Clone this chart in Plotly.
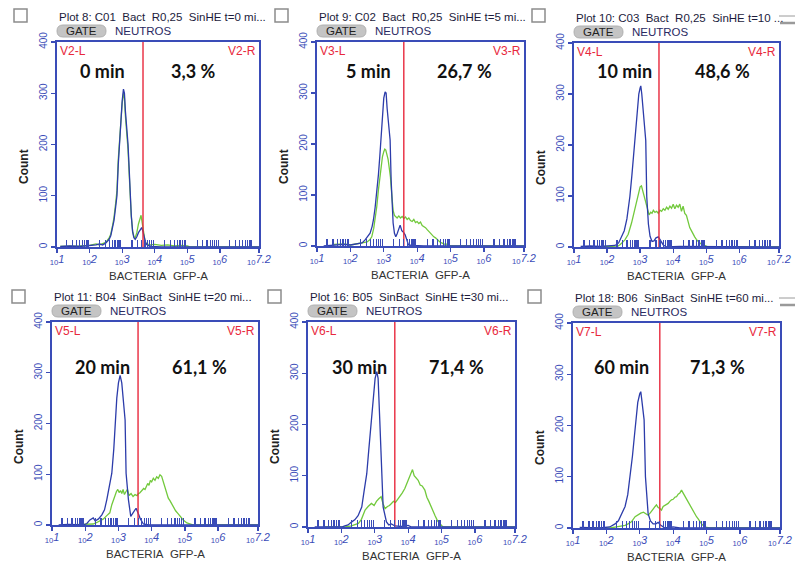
import plotly.graph_objects as go

W, H = 795, 563

# ---------------- data ----------------
HEADERS = ["Plot 8: C01\u00a0 Bact\u00a0 R0,25\u00a0 SinHE t=0 mi...",
           "Plot 9: C02\u00a0 Bact\u00a0 R0,25\u00a0 SinHE t=5 mi...",
           "Plot 10: C03\u00a0 Bact\u00a0 R0,25\u00a0 SinHE t=10 ...",
           "Plot 11: B04\u00a0 SinBact\u00a0 SinHE t=20 mi...",
           "Plot 16: B05\u00a0 SinBact\u00a0 SinHE t=30 mi...",
           "Plot 18: B06\u00a0 SinBact\u00a0 SinHE t=60 mi..."]
GATE_NAMES = ["V2", "V3", "V4", "V5", "V6", "V7"]
TIMES = ["0 min", "5 min", "10 min", "20 min", "30 min", "60 min"]
PCTS = ["3,3 %", "26,7 %", "48,6 %", "61,1 %", "71,4 %", "71,3 %"]
GATE_LOG = [3.64, 3.60, 3.57, 3.59, 3.60, 3.60]
Y_TICKS = [0, 100, 200, 300, 400]
X_TICK_EXP = ["1", "2", "3", "4", "5", "6", "7.2"]
X_TICK_LOG = [1, 2, 3, 4, 5, 6, 7.2]

p1_blue_log = [1.1,1.4,1.7,2.0,2.2,2.3,2.4,2.5,2.6,2.65,2.7,2.75,2.8,2.84,2.88,2.92,2.96,3.0,3.04,3.07,3.1,3.14,3.18,3.21,3.24,3.28,3.32,3.36,3.4,3.45,3.5,3.55,3.6,3.64,3.68,3.72,3.78,3.9,4.2,5.0,7.2]
p1_blue_cnt = [1,2,1,2,4,6,4,8,15,22,35,52,78,100,160,205,245,285,308,300,265,235,200,160,105,62,30,18,15,20,28,34,38,30,18,8,3,1,0,0,0]
p1_green_log = [1.1,1.4,1.7,2.0,2.2,2.3,2.4,2.5,2.6,2.65,2.7,2.75,2.8,2.84,2.88,2.92,2.96,3.0,3.04,3.07,3.1,3.14,3.18,3.21,3.24,3.28,3.32,3.36,3.4,3.45,3.5,3.55,3.58,3.62,3.66,3.7,3.75,3.85,4.0,4.2,4.4,4.6,4.8,5.0,5.1,7.2]
p1_green_cnt = [1,1,2,3,6,4,7,9,18,25,40,58,85,110,170,215,250,280,300,290,255,225,190,150,100,60,32,20,18,28,45,58,62,45,25,12,6,4,5,3,4,2,3,2,0,0]

p2_blue_log = [1.2,1.5,1.8,2.0,2.2,2.35,2.44,2.52,2.59,2.65,2.69,2.74,2.79,2.84,2.88,2.92,2.96,3.0,3.04,3.07,3.1,3.14,3.19,3.22,3.25,3.28,3.32,3.36,3.4,3.45,3.49,3.54,3.59,3.64,3.69,3.74,3.85,4.2,7.2]
p2_blue_cnt = [0,2,3,2,4,6,12,18,25,38,51,75,104,140,175,208,250,290,302,300,270,240,208,130,75,45,25,18,24,36,41,30,27,22,10,2,1,0,0]
p2_green_log = [1.5,1.8,2.0,2.2,2.4,2.5,2.58,2.64,2.7,2.75,2.79,2.84,2.89,2.92,2.96,3.0,3.03,3.06,3.09,3.13,3.17,3.2,3.24,3.28,3.32,3.36,3.4,3.45,3.5,3.55,3.6,3.65,3.7,3.75,3.8,3.85,3.9,3.95,4.0,4.05,4.1,4.15,4.2,4.25,4.3,4.35,4.4,4.45,4.5,4.55,4.6,4.65,4.7,4.75,4.8,4.85,4.9,4.95,5.0,7.2]
p2_green_cnt = [3,4,2,4,6,8,12,18,35,55,77,110,142,160,175,185,190,188,180,170,150,135,100,70,60,58,55,59,55,58,54,57,52,55,50,48,52,46,48,44,47,40,38,36,32,28,26,22,18,16,12,10,7,5,4,3,4,2,0,0]

p3_blue_log = [1.2,1.5,1.8,2.0,2.24,2.35,2.44,2.52,2.6,2.69,2.75,2.8,2.84,2.88,2.92,2.96,3.0,3.02,3.05,3.08,3.12,3.17,3.2,3.25,3.3,3.36,3.42,3.48,3.55,3.62,3.7,3.8,4.2,7.2]
p3_blue_cnt = [1,2,1,2,3,8,21,32,55,99,140,180,209,245,275,300,312,316,300,280,250,209,99,45,21,11,12,18,20,12,4,0,1,0]
p3_green_log = [1.5,2.0,2.29,2.4,2.54,2.64,2.74,2.82,2.9,2.96,3.0,3.04,3.08,3.12,3.17,3.22,3.27,3.32,3.36,3.4,3.45,3.5,3.55,3.6,3.65,3.7,3.75,3.8,3.85,3.9,3.95,4.0,4.05,4.1,4.15,4.2,4.25,4.3,4.35,4.4,4.45,4.5,4.55,4.6,4.65,4.7,4.75,4.8,4.85,4.9,4.95,5.0,5.06,7.2]
p3_green_cnt = [0,1,0,5,14,25,47,70,95,112,118,120,110,100,85,72,63,68,66,72,68,70,66,72,70,75,72,78,74,80,76,84,75,82,78,84,70,80,66,62,48,38,32,25,20,15,11,8,6,4,3,2,0,0]

p4_blue_log = [1.2,1.5,1.94,2.05,2.14,2.24,2.3,2.4,2.5,2.58,2.65,2.72,2.8,2.86,2.9,2.95,3.0,3.05,3.1,3.15,3.2,3.23,3.3,3.37,3.45,3.53,3.6,3.66,3.75,3.9,7.2]
p4_blue_cnt = [0,1,0,3,10,14,8,12,20,30,50,75,102,150,207,250,280,295,280,245,207,102,50,17,25,33,22,12,2,0,0]
p4_green_log = [1.5,2.0,2.24,2.35,2.44,2.55,2.64,2.74,2.8,2.87,2.94,2.98,3.02,3.06,3.1,3.14,3.18,3.22,3.27,3.32,3.38,3.44,3.5,3.56,3.6,3.64,3.7,3.76,3.8,3.84,3.88,3.92,3.96,4.0,4.05,4.1,4.15,4.2,4.25,4.3,4.35,4.4,4.45,4.5,4.55,4.6,4.66,4.72,4.8,4.86,4.95,5.06,5.15,5.26,7.2]
p4_green_cnt = [0,1,2,5,8,12,18,24,40,55,66,70,64,68,62,70,60,65,70,58,62,56,60,58,62,63,68,72,70,76,82,78,88,85,92,88,95,92,99,96,85,75,68,53,48,42,36,28,22,17,10,4,2,0,0]

p5_blue_log = [1.2,2.01,2.1,2.2,2.31,2.4,2.5,2.61,2.68,2.76,2.82,2.9,2.96,3.01,3.06,3.1,3.15,3.2,3.25,3.35,3.42,3.5,3.6,3.8,4.0,4.1,7.2]
p5_blue_cnt = [0,0,2,4,10,14,22,39,70,104,150,208,250,290,303,290,208,104,39,10,4,6,2,1,3,0,0]
p5_green_log = [1.5,2.11,2.3,2.51,2.6,2.71,2.8,2.9,2.98,3.05,3.12,3.19,3.25,3.31,3.38,3.44,3.5,3.56,3.62,3.7,3.76,3.82,3.9,3.96,4.02,4.08,4.13,4.18,4.24,4.3,4.36,4.42,4.5,4.56,4.62,4.68,4.74,4.8,4.88,4.95,5.0,5.05,7.2]
p5_green_cnt = [0,0,2,7,15,33,40,46,42,50,55,59,45,36,40,42,46,50,48,55,62,66,75,85,92,104,112,100,96,91,82,80,72,58,50,40,32,23,12,6,3,0,0]

p6_blue_log = [1.2,1.8,2.1,2.26,2.36,2.46,2.56,2.64,2.71,2.78,2.84,2.88,2.94,3.0,3.03,3.06,3.1,3.13,3.17,3.21,3.25,3.32,3.4,3.48,3.55,3.62,3.75,4.0,4.2,7.2]
p6_blue_cnt = [1,0,2,8,14,28,42,65,100,140,180,211,245,262,266,250,230,211,100,50,28,14,8,8,11,6,0,2,0,0]
p6_green_log = [1.5,2.11,2.3,2.45,2.56,2.65,2.75,2.86,2.95,3.03,3.11,3.18,3.25,3.32,3.4,3.46,3.5,3.55,3.6,3.65,3.7,3.75,3.8,3.85,3.9,3.95,4.0,4.05,4.1,4.15,4.2,4.25,4.3,4.35,4.4,4.45,4.5,4.55,4.6,4.65,4.7,4.75,4.8,4.85,4.9,4.95,5.0,5.1,7.2]
p6_green_cnt = [0,0,2,3,5,8,12,22,26,29,31,28,25,30,38,42,45,40,38,35,42,44,46,48,52,55,56,60,61,66,68,74,68,62,58,50,45,38,32,26,22,18,12,8,5,3,1,0,0]

BLUE_LOG = [p1_blue_log, p2_blue_log, p3_blue_log, p4_blue_log, p5_blue_log, p6_blue_log]
BLUE_CNT = [p1_blue_cnt, p2_blue_cnt, p3_blue_cnt, p4_blue_cnt, p5_blue_cnt, p6_blue_cnt]
GREEN_LOG = [p1_green_log, p2_green_log, p3_green_log, p4_green_log, p5_green_log, p6_green_log]
GREEN_CNT = [p1_green_cnt, p2_green_cnt, p3_green_cnt, p4_green_cnt, p5_green_cnt, p6_green_cnt]

# ---------------- layout geometry (pixels) ----------------
BOXES = [(57, 259, 42, 247), (317, 524, 42, 246), (574, 779, 43, 247),
         (52, 258, 322, 525), (308, 515, 322, 527), (573, 780, 323, 528)]
TIME_X = [102, 368, 624, 102, 359, 621]
PCT_X = [193, 464, 722, 199, 456, 717]
LABEL_Y = [71, 71, 71, 367, 367, 367]
CHECKS = [(14, 9), (275, 9), (532, 9), (12, 290), (268, 290), (528, 290)]

AX = "#3a4cb8"
TRACE_BLUE = "#2c3caa"
GREEN = "#72c93c"
RED = "#e8283c"


def px(x):
    return x / W


def py(y):
    return 1 - y / H


fig = go.Figure()
annotations = []
shapes = []
layout = {}

for i in range(6):
    n = i + 1
    xa = "x" if n == 1 else f"x{n}"
    ya = "y" if n == 1 else f"y{n}"
    l, r, t, b = BOXES[i]

    fig.add_trace(go.Scatter(x=[10 ** v for v in GREEN_LOG[i]], y=GREEN_CNT[i], mode="lines",
                             line=dict(color=GREEN, width=1.3), xaxis=xa, yaxis=ya,
                             showlegend=False, hoverinfo="skip"))
    fig.add_trace(go.Scatter(x=[10 ** v for v in BLUE_LOG[i]], y=BLUE_CNT[i], mode="lines",
                             line=dict(color=TRACE_BLUE, width=1.3), xaxis=xa, yaxis=ya,
                             showlegend=False, hoverinfo="skip"))
    g = 10 ** GATE_LOG[i]
    fig.add_trace(go.Scatter(x=[g, g], y=[Y_TICKS[0], Y_TICKS[-1]], mode="lines",
                             line=dict(color=RED, width=1.4), xaxis=xa, yaxis=ya,
                             showlegend=False, hoverinfo="skip"))

    minor_vals = [k * 10 ** d for d in range(1, 8) for k in range(2, 10) if k * 10 ** d < 10 ** 7.2]
    layout["xaxis" if n == 1 else f"xaxis{n}"] = dict(
        domain=[px(l), px(r)], anchor=ya, type="log", range=[1, 7.2],
        tickmode="array", tickvals=[10 ** v for v in X_TICK_LOG],
        ticktext=[f"<sub>10</sub><i>{e}</i>" for e in X_TICK_EXP],
        ticks="outside", ticklen=4, tickcolor=AX, tickwidth=1.3, ticklabelstandoff=-3,
        tickfont=dict(family="Arial", size=11, color=AX),
        showline=True, linecolor=AX, linewidth=1.6, mirror=True,
        showgrid=False, zeroline=False, fixedrange=True, automargin=False,
        minor=dict(tickmode="array", tickvals=minor_vals, ticks="inside",
                   ticklen=7, tickcolor=AX, tickwidth=1.2, showgrid=False),
    )
    layout["yaxis" if n == 1 else f"yaxis{n}"] = dict(
        domain=[py(b), py(t)], anchor=xa, range=[0, 400],
        tickmode="array", tickvals=Y_TICKS, ticktext=[str(v) for v in Y_TICKS],
        ticks="outside", ticklen=4, tickcolor=AX, tickwidth=1.3, tickangle=-90,
        tickfont=dict(family="Arial", size=10, color=AX),
        showline=True, linecolor=AX, linewidth=1.6, mirror=True,
        showgrid=False, zeroline=False, fixedrange=True, automargin=False,
    )

    # header text
    annotations.append(dict(x=px(l), y=py(t - 25), xref="paper", yref="paper",
                            text=HEADERS[i], showarrow=False, xanchor="left", yanchor="middle",
                            font=dict(family="Arial", size=11.5, color="#1c1c3c")))
    # gate pill
    pt, pb = t - 17, t - 5
    pl, pr = l, l + 49
    rr = (pb - pt) / 2
    path = (f"M {px(pl + rr)},{py(pt)} L {px(pr - rr)},{py(pt)} "
            f"Q {px(pr)},{py(pt)} {px(pr)},{py(pt + rr)} "
            f"Q {px(pr)},{py(pb)} {px(pr - rr)},{py(pb)} "
            f"L {px(pl + rr)},{py(pb)} Q {px(pl)},{py(pb)} {px(pl)},{py(pt + rr)} "
            f"Q {px(pl)},{py(pt)} {px(pl + rr)},{py(pt)} Z")
    shapes.append(dict(type="path", path=path, xref="paper", yref="paper",
                       fillcolor="#c4c4c4", line=dict(color="#b0b0b0", width=1)))
    annotations.append(dict(x=px((pl + pr) / 2), y=py((pt + pb) / 2), xref="paper", yref="paper",
                            text="GATE", showarrow=False, xanchor="center", yanchor="middle",
                            font=dict(family="Arial", size=11.5, color="#222222")))
    annotations.append(dict(x=px(pr + 7), y=py((pt + pb) / 2), xref="paper", yref="paper",
                            text="NEUTROS", showarrow=False, xanchor="left", yanchor="middle",
                            font=dict(family="Arial", size=11.5, color="#2a2a62")))
    # checkbox
    cx, cy = CHECKS[i]
    shapes.append(dict(type="rect", xref="paper", yref="paper", x0=px(cx), x1=px(cx + 13),
                       y0=py(cy + 13), y1=py(cy), line=dict(color="#8c8c8c", width=1.5),
                       fillcolor="white"))
    # gate labels
    annotations.append(dict(x=px(l + 1), y=py(t + 9), xref="paper", yref="paper",
                            text=f"{GATE_NAMES[i]}-L", showarrow=False, xanchor="left", yanchor="middle",
                            font=dict(family="Arial", size=12, color=RED)))
    annotations.append(dict(x=px(r - 1), y=py(t + 9), xref="paper", yref="paper",
                            text=f"{GATE_NAMES[i]}-R", showarrow=False, xanchor="right", yanchor="middle",
                            font=dict(family="Arial", size=12, color=RED)))
    # time & percent
    annotations.append(dict(x=px(TIME_X[i]), y=py(LABEL_Y[i]), xref="paper", yref="paper",
                            text=f"<b>{TIMES[i]}</b>", showarrow=False, xanchor="center", yanchor="middle",
                            font=dict(family="Lato", size=18, color="#111111")))
    annotations.append(dict(x=px(PCT_X[i]), y=py(LABEL_Y[i]), xref="paper", yref="paper",
                            text=f"<b>{PCTS[i]}</b>", showarrow=False, xanchor="center", yanchor="middle",
                            font=dict(family="Lato", size=18, color="#111111")))
    # axis titles
    annotations.append(dict(x=px(l - 33), y=py(t + 125), xref="paper", yref="paper",
                            text="<b>Count</b>", showarrow=False, textangle=-90,
                            xanchor="center", yanchor="middle",
                            font=dict(family="Arial", size=12, color="#222222")))
    annotations.append(dict(x=px((l + r) / 2), y=py(b + 29), xref="paper", yref="paper",
                            text="BACTERIA\u00a0 GFP-A", showarrow=False,
                            xanchor="center", yanchor="middle",
                            font=dict(family="Arial", size=11.5, color="#333333")))

# little gray window-control marks
for (x0, x1, yy, wdt) in [(779, 795, 16, 1), (780, 795, 23, 2.5), (779, 795, 298, 1), (780, 795, 305, 2.5)]:
    shapes.append(dict(type="line", xref="paper", yref="paper", x0=px(x0), x1=px(x1),
                       y0=py(yy), y1=py(yy), line=dict(color="#9a9a9a", width=wdt)))

fig.update_layout(width=W, height=H, margin=dict(l=0, r=0, t=0, b=0, autoexpand=False),
                  paper_bgcolor="white", plot_bgcolor="white",
                  annotations=annotations, shapes=shapes, **layout)

fig.write_html("out.html", config={"displayModeBar": False, "staticPlot": True},
               post_script="document.body.style.margin='0';document.body.style.padding='0';"
                           "document.documentElement.style.overflow='hidden';")
